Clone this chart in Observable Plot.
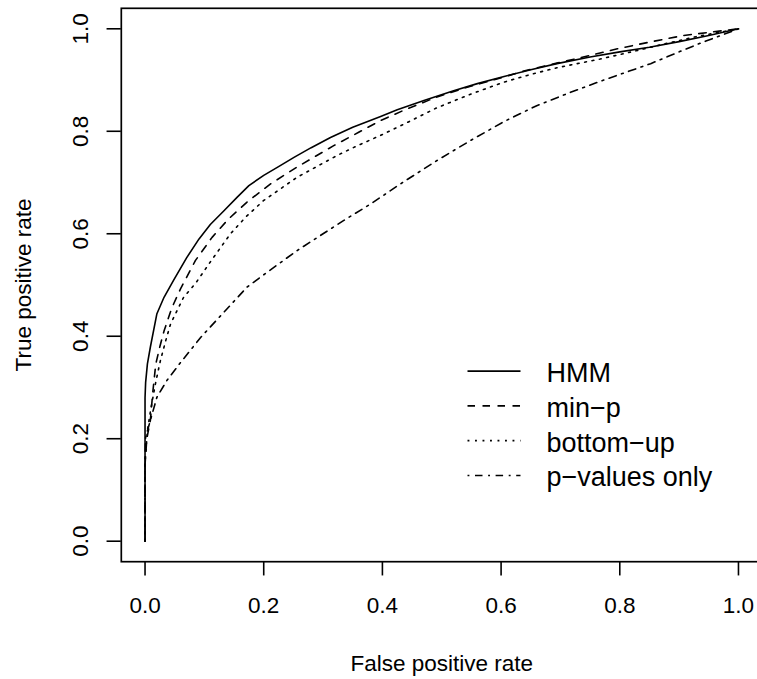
<!DOCTYPE html>
<html>
<head>
<meta charset="utf-8">
<script src="https://cdn.jsdelivr.net/npm/d3@7"></script>
<script src="https://cdn.jsdelivr.net/npm/@observablehq/plot@0.6"></script>
<style>
  html, body { margin: 0; padding: 0; background: #fff; }
  svg { display: block; }
</style>
</head>
<body>
<div id="chart"></div>
<script>
// ---- data ----
const methods = ["HMM", "min\u2212p", "bottom\u2212up", "p\u2212values only"];

const fprHMM = [0, 0, 0.001, 0.004, 0.009, 0.02, 0.032, 0.048, 0.07, 0.091, 0.11, 0.133, 0.155, 0.175, 0.2, 0.225, 0.251, 0.28, 0.3125, 0.35, 0.397, 0.425, 0.47, 0.52, 0.56, 0.605, 0.65, 0.694, 0.75, 0.8, 0.85, 0.9, 0.95, 1];
const tprHMM = [0, 0.28, 0.31, 0.346, 0.379, 0.444, 0.476, 0.509, 0.553, 0.59, 0.618, 0.645, 0.671, 0.694, 0.714, 0.731, 0.749, 0.768, 0.788, 0.808, 0.829, 0.842, 0.86, 0.879, 0.893, 0.907, 0.92, 0.932, 0.945, 0.955, 0.964, 0.975, 0.987, 1];

const fprMinP = [0, 0, 0.003, 0.009, 0.013, 0.018, 0.025, 0.032, 0.045, 0.06, 0.085, 0.113, 0.14, 0.172, 0.211, 0.256, 0.318, 0.36, 0.397, 0.44, 0.492, 0.54, 0.593, 0.64, 0.694, 0.75, 0.796, 0.85, 0.908, 0.95, 1];
const tprMinP = [0, 0.15, 0.2, 0.236, 0.29, 0.345, 0.38, 0.41, 0.455, 0.493, 0.548, 0.593, 0.628, 0.662, 0.697, 0.73, 0.772, 0.798, 0.821, 0.843, 0.867, 0.885, 0.902, 0.918, 0.933, 0.948, 0.961, 0.974, 0.987, 0.993, 1];

const fprBottomUp = [0, 0, 0.004, 0.01, 0.018, 0.026, 0.035, 0.043, 0.065, 0.085, 0.11, 0.144, 0.17, 0.2, 0.256, 0.324, 0.36, 0.397, 0.44, 0.492, 0.55, 0.605, 0.65, 0.694, 0.767, 0.82, 0.87, 0.93, 1];
const tprBottomUp = [0, 0.15, 0.216, 0.26, 0.31, 0.353, 0.392, 0.424, 0.476, 0.503, 0.545, 0.6, 0.633, 0.665, 0.71, 0.753, 0.773, 0.792, 0.816, 0.846, 0.873, 0.896, 0.911, 0.924, 0.941, 0.955, 0.969, 0.985, 1];

const fprPOnly = [0, 0, 0.001, 0.009, 0.02, 0.037, 0.06, 0.094, 0.133, 0.172, 0.2, 0.256, 0.3, 0.335, 0.38, 0.43, 0.492, 0.55, 0.605, 0.66, 0.717, 0.773, 0.852, 0.9, 0.936, 1];
const tprPOnly = [0, 0.16, 0.203, 0.236, 0.281, 0.314, 0.349, 0.398, 0.447, 0.496, 0.52, 0.567, 0.6, 0.626, 0.658, 0.697, 0.743, 0.783, 0.819, 0.85, 0.876, 0.9, 0.932, 0.955, 0.972, 1];

const xTicks = [0, 0.2, 0.4, 0.6, 0.8, 1.0];
const yTicks = [0, 0.2, 0.4, 0.6, 0.8, 1.0];
const xLabel = "False positive rate";
const yLabel = "True positive rate";

// ---- build tables ----
const seriesFpr = [fprHMM, fprMinP, fprBottomUp, fprPOnly];
const seriesTpr = [tprHMM, tprMinP, tprBottomUp, tprPOnly];
const dashes = [null, "7.5,7.5", "1.9,5.6", "1.9,5.6,7.5,5.6"];
const series = methods.map((m, i) => ({
  method: m,
  dash: dashes[i],
  rows: seriesFpr[i].map((f, j) => ({method: m, fpr: f, tpr: seriesTpr[i][j]}))
}));

// legend layout (in data units, like R's legend(x, y, ...))
const legLineX1 = 0.5434, legLineX2 = 0.6327, legTextX = 0.6765;
const legTopY = 0.332, legStep = 0.0679;
const legend = methods.map((m, i) => ({method: m, dash: dashes[i], y: legTopY - i * legStep}));

const font = "'Liberation Sans', Arial, Helvetica, sans-serif";
const lw = 1.6;

const marks = [
  Plot.frame({stroke: "black", strokeWidth: 1.7}),
  Plot.axisX({ticks: xTicks, tickSize: 14.25, tickPadding: 21.5, fontSize: 22.5,
    tickFormat: d => d.toFixed(1), label: null, strokeWidth: 1.6, color: "black"}),
  Plot.axisY({ticks: yTicks, tickSize: 14.25, tickFormat: () => "", label: null, strokeWidth: 1.6, color: "black"}),
  Plot.text(yTicks, {y: d => d, frameAnchor: "left", text: d => d.toFixed(1), rotate: -90,
    textAnchor: "middle", lineAnchor: "bottom", dx: -33.8, fontSize: 22.5, fill: "black"}),
  Plot.text([xLabel], {frameAnchor: "bottom", text: d => d, textAnchor: "middle",
    lineAnchor: "bottom", dy: 108.8, fontSize: 22.5, fill: "black"}),
  Plot.text([yLabel], {frameAnchor: "left", text: d => d, rotate: -90, textAnchor: "middle",
    lineAnchor: "bottom", dx: -90.8, fontSize: 22.5, fill: "black"})
];

for (const s of series) {
  marks.push(Plot.line(s.rows, {x: "fpr", y: "tpr", stroke: "black", strokeWidth: lw,
    strokeDasharray: s.dash ?? undefined, strokeLinejoin: "round"}));
}
for (const l of legend) {
  marks.push(Plot.link([l], {x1: () => legLineX1, x2: () => legLineX2, y1: "y", y2: "y",
    stroke: "black", strokeWidth: lw, strokeDasharray: l.dash ?? undefined}));
}
marks.push(Plot.text(legend, {x: () => legTextX, y: "y", text: "method", textAnchor: "start",
  lineAnchor: "bottom", dy: 11, fontSize: 27, fill: "black"}));

const chart = Plot.plot({
  width: 757,
  height: 679,
  marginLeft: 120.8,
  marginRight: -4.7,
  marginTop: 7.8,
  marginBottom: 117.8,
  x: {domain: [-0.04, 1.04]},
  y: {domain: [-0.04, 1.04]},
  style: {fontFamily: font, background: "white", color: "black", overflow: "visible"},
  marks
});
document.getElementById("chart").appendChild(chart);
</script>
</body>
</html>
